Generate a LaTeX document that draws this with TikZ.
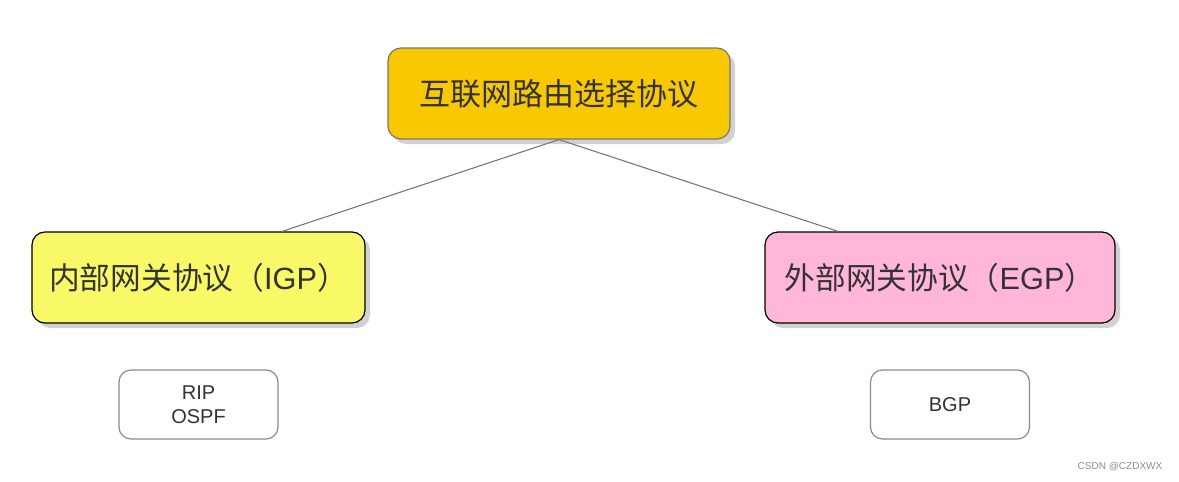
\documentclass[tikz,border=0pt]{standalone}
\usepackage{fontspec}
\setmainfont{Liberation Sans}
\newfontfamily\cjk{Noto Sans CJK SC}
\usetikzlibrary{shadows,calc}
\definecolor{topfill}{HTML}{F8C800}
\definecolor{leftfill}{HTML}{F9F967}
\definecolor{rightfill}{HTML}{FFB6D9}
\definecolor{txt}{HTML}{333333}
\definecolor{edgegray}{HTML}{777777}
\tikzset{
  bigbox/.style={draw, line width=1.2pt, rounded corners=13pt, inner sep=0pt,
    text=txt, drop shadow={shadow xshift=5pt, shadow yshift=-5pt, opacity=0.18, fill=black}},
  smallbox/.style={draw=edgegray!85, line width=1.2pt, rounded corners=12pt, fill=white,
    minimum width=159pt, minimum height=69pt, inner sep=0pt, text=txt, align=center,
    font=\fontsize{20}{24}\selectfont},
  conn/.style={draw=edgegray, line width=1.1pt}
}
\begin{document}
\begin{tikzpicture}[x=1pt,y=-1pt]
\useasboundingbox (0,0) rectangle (1179,482);
\node[bigbox, draw=edgegray, fill=topfill, minimum width=342pt, minimum height=91pt,
  font=\fontsize{31}{36}\selectfont\cjk] (top) at (559,93.5) {互联网路由选择协议};
\node[bigbox, draw=black, fill=leftfill, minimum width=333pt, minimum height=91pt,
  font=\fontsize{30.7}{36}\selectfont] (igp) at (198.5,277.5) {{\cjk 内部网关协议（}IGP{\cjk ）}};
\node[bigbox, draw=black, fill=rightfill, minimum width=350pt, minimum height=91pt,
  font=\fontsize{30.7}{36}\selectfont] (egp) at (940,277.5) {{\cjk 外部网关协议（}EGP{\cjk ）}};
\node[smallbox] (rip) at (198.5,404.5) {RIP\\OSPF};
\node[smallbox] (bgp) at (950,404.5) {BGP};
\coordinate (la) at ($(igp.north west)!0.75!(igp.north east)$);
\coordinate (ra) at ($(egp.north west)!0.21!(egp.north east)$);
\draw[conn] (top.south) -- (la);
\draw[conn] (top.south) -- (ra);
\node[text=black!45, font=\fontsize{10}{12}\selectfont, inner sep=0pt] (wm) at (1120,467) {CSDN @CZDXWX};
\end{tikzpicture}
\end{document}
